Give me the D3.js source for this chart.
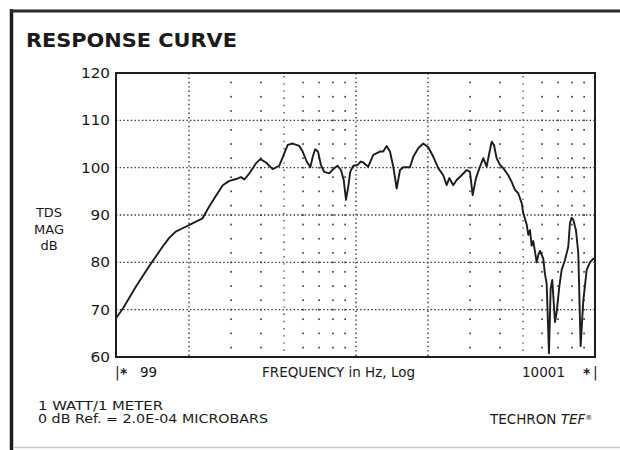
<!DOCTYPE html>
<html>
<head>
<meta charset="utf-8">
<script src="https://cdn.jsdelivr.net/npm/d3@7"></script>
<style>
  html, body { margin: 0; padding: 0; background: #fff; }
  svg { display: block; }
  text { font-family: "DejaVu Sans", "Liberation Sans", Arial, sans-serif; fill: #1a1a1a; }
</style>
</head>
<body>
<svg id="chart" width="620" height="450"></svg>
<script>
// Measured response, frequency in Hz and magnitude in dB
const freqHz = [99, 106, 120, 136, 155, 165, 176, 188, 201, 214, 228, 243, 259, 277, 295, 315, 330, 341, 358, 381,
  398, 420, 448, 477, 501, 518, 543, 579, 598, 622, 644, 659, 675, 693, 713, 736, 773, 811, 838, 865,
  888, 908, 928, 946, 974, 1016, 1048, 1072, 1125, 1181, 1259, 1300, 1343, 1387, 1432, 1480, 1528, 1577, 1682, 1736,
  1822, 1912, 2006, 2106, 2209, 2318, 2395, 2456, 2552, 2637, 2767, 2905, 2998, 3077, 3177, 3301, 3408, 3520, 3610, 3696,
  3778, 3877, 4003, 4132, 4336, 4480, 4625, 4775, 4934, 5011, 5177, 5258, 5345, 5432, 5516, 5608, 5701, 5788, 5886, 6076,
  6175, 6278, 6418, 6524, 6626, 6801, 6913, 7088, 7254, 7488, 7730, 7858, 7986, 8110, 8325, 8512, 8709, 8932, 9229, 9527,
  9834, 10001];
const magDb = [68.2, 70.3, 74.9, 79.1, 83.3, 85.1, 86.5, 87.2, 87.9, 88.6, 89.3, 91.8, 94.0, 96.3, 97.2, 97.6, 98.0, 97.5, 98.8, 100.9,
  101.8, 101.1, 99.7, 100.4, 103.0, 104.8, 105.1, 104.6, 103.4, 101.3, 100.1, 102.3, 103.9, 103.4, 100.6, 99.1, 98.8, 99.9, 100.4, 99.5,
  97.4, 93.2, 96.0, 99.1, 100.4, 100.6, 101.3, 101.1, 100.2, 102.7, 103.4, 103.4, 104.6, 103.4, 100.2, 95.6, 99.5, 100.1, 100.1, 102.3,
  104.1, 105.1, 104.3, 102.3, 99.9, 98.4, 96.3, 97.8, 96.3, 97.4, 98.4, 99.5, 99.1, 94.2, 97.8, 100.2, 102.0, 100.2, 103.0, 105.5,
  104.8, 102.0, 100.6, 99.9, 98.4, 97.0, 95.3, 94.6, 92.5, 90.4, 88.0, 85.8, 86.8, 83.5, 84.5, 82.3, 80.0, 81.5, 82.4, 80.8,
  77.5, 75.5, 60.8, 74.5, 76.3, 67.4, 69.5, 74.8, 78.4, 80.5, 83.3, 88.3, 89.4, 89.0, 86.8, 82.0, 62.3, 71.8, 78.4, 80.0,
  80.8, 80.6];

// Axis ranges and grid positions
const freqDomain = [99, 10001];
const dbDomain = [60, 120];
const dbTicks = [60, 70, 80, 90, 100, 110, 120];
const majorFreqLines = [200, 1000, 2000];
const midFreqLines = [500, 5000];
const minorFreqs = [300, 400, 600, 700, 800, 900, 3000, 4000, 6000, 7000, 8000, 9000];
const minorDb = [62, 65, 68, 72, 75, 78, 82, 85, 88, 92, 95, 98, 102, 105, 108, 112, 115, 118];

const svg = d3.select("#chart");
const plotLeft = 116, plotRight = 595, plotTop = 73, plotBottom = 357;

const x = d3.scaleLog().domain(freqDomain).range([plotLeft, plotRight]);
const y = d3.scaleLinear().domain(dbDomain).range([plotBottom, plotTop]);

// outer frame
svg.append("rect").attr("x", 0).attr("y", 0).attr("width", 620).attr("height", 450).attr("fill", "#fff");
svg.append("line").attr("x1", 11.5).attr("x2", 11.5).attr("y1", 9).attr("y2", 450)
  .attr("stroke", "#1e1e1e").attr("stroke-width", 3.5);
svg.append("line").attr("x1", 10).attr("x2", 620).attr("y1", 11).attr("y2", 11)
  .attr("stroke", "#2a2a2a").attr("stroke-width", 3);
svg.append("line").attr("x1", 13).attr("x2", 620).attr("y1", 447.5).attr("y2", 447.5)
  .attr("stroke", "#c8c8c8").attr("stroke-width", 1.5);

// title
svg.append("text").attr("x", 26).attr("y", 47)
  .attr("font-size", 19).attr("font-weight", "bold")
  .attr("textLength", 211).attr("lengthAdjust", "spacingAndGlyphs")
  .text("RESPONSE CURVE");

const grid = svg.append("g");
const innerTicks = dbTicks.filter(d => d > dbDomain[0] && d < dbDomain[1]);

// dotted horizontal grid lines
grid.selectAll("line.h").data(innerTicks).join("line")
  .attr("x1", plotLeft).attr("x2", plotRight)
  .attr("y1", d => y(d)).attr("y2", d => y(d))
  .attr("stroke", "#333").attr("stroke-width", 1.4).attr("stroke-dasharray", "1.4,2.3");

// dotted vertical grid lines
grid.selectAll("line.v").data(majorFreqLines).join("line")
  .attr("x1", d => x(d)).attr("x2", d => x(d))
  .attr("y1", plotTop).attr("y2", plotBottom)
  .attr("stroke", "#333").attr("stroke-width", 1.4).attr("stroke-dasharray", "1.4,3");

grid.selectAll("line.m").data(midFreqLines).join("line")
  .attr("x1", d => x(d)).attr("x2", d => x(d))
  .attr("y1", plotTop + 3).attr("y2", plotBottom)
  .attr("stroke", "#444").attr("stroke-width", 1.3).attr("stroke-dasharray", "1.4,5.8");

// dot matrix between the lines
const dots = [];
minorFreqs.forEach(f => {
  minorDb.forEach(v => dots.push([f, v]));
  innerTicks.forEach(v => dots.push([f, v]));
});
grid.selectAll("rect.dot").data(dots).join("rect")
  .attr("x", d => x(d[0]) - 0.8).attr("y", d => y(d[1]) - 0.8)
  .attr("width", 1.7).attr("height", 1.7).attr("fill", "#444");

// plot frame
svg.append("rect").attr("x", plotLeft).attr("y", plotTop)
  .attr("width", plotRight - plotLeft).attr("height", plotBottom - plotTop)
  .attr("fill", "none").attr("stroke", "#1e1e1e").attr("stroke-width", 2);

// response curve
const pts = freqHz.map((f, i) => ({ f, db: magDb[i] }));
const line = d3.line().x(d => x(d.f)).y(d => y(d.db));
svg.append("path").datum(pts)
  .attr("d", line)
  .attr("fill", "none").attr("stroke", "#1c1c1c")
  .attr("stroke-width", 1.9).attr("stroke-linejoin", "round");

// y axis labels
const yAxis = svg.append("g").attr("transform", `translate(${plotLeft},0)`)
  .call(d3.axisLeft(y).tickValues(dbTicks).tickSize(0).tickPadding(6));
yAxis.select(".domain").remove();
yAxis.selectAll("text")
  .attr("font-size", 14).attr("font-family", "DejaVu Sans, sans-serif").attr("fill", "#1a1a1a")
  .attr("textLength", d => d >= 100 ? 29 : 19.5).attr("lengthAdjust", "spacingAndGlyphs");

// y axis title
const yTitle = svg.append("text").attr("text-anchor", "middle").attr("font-size", 13);
[["TDS", 217], ["MAG", 234], ["dB", 250]].forEach(([t, yy]) =>
  yTitle.append("tspan").attr("x", 49).attr("y", yy).text(t));

// x axis labels and cursor markers
svg.append("text").attr("x", 115).attr("y", 377).attr("font-size", 14).text("|");
svg.append("text").attr("x", 120).attr("y", 378).attr("font-size", 14).attr("font-weight", "bold").text("*");
svg.append("text").attr("x", 140).attr("y", 377).attr("font-size", 13.5).text(freqDomain[0]);
svg.append("text").attr("x", 262).attr("y", 377).attr("font-size", 13.5)
  .attr("textLength", 153).attr("lengthAdjust", "spacingAndGlyphs")
  .text("FREQUENCY in Hz, Log");
svg.append("text").attr("x", 522).attr("y", 377).attr("font-size", 13.5)
  .attr("textLength", 43).attr("lengthAdjust", "spacingAndGlyphs").text(freqDomain[1]);
svg.append("text").attr("x", 583).attr("y", 378).attr("font-size", 14).attr("font-weight", "bold").text("*");
svg.append("text").attr("x", 593).attr("y", 377).attr("font-size", 14).text("|");

// footer notes
svg.append("text").attr("x", 38).attr("y", 409.5).attr("font-size", 11.5)
  .attr("textLength", 125).attr("lengthAdjust", "spacingAndGlyphs").text("1 WATT/1 METER");
svg.append("text").attr("x", 38).attr("y", 422.5).attr("font-size", 11.5)
  .attr("textLength", 230).attr("lengthAdjust", "spacingAndGlyphs").text("0 dB Ref. = 2.0E-04 MICROBARS");

const brand = svg.append("text").attr("x", 490).attr("y", 424).attr("font-size", 13.5);
brand.append("tspan").text("TECHRON ");
brand.append("tspan").attr("font-style", "italic").text("TEF");
brand.append("tspan").attr("font-size", 7).attr("dy", -4).text("®");
</script>
</body>
</html>
